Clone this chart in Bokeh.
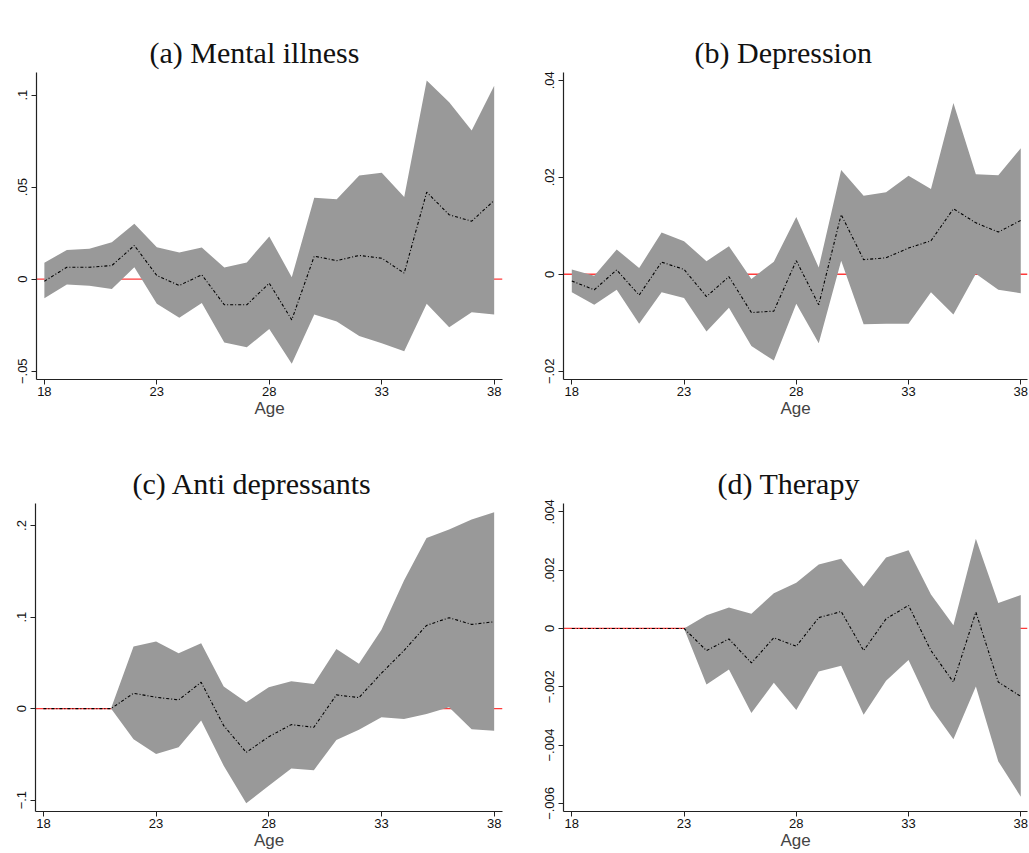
from bokeh.plotting import figure
from bokeh.layouts import column, row
from bokeh.models import Range1d, FixedTicker, CustomJSTickFormatter, Span, Title, LinearAxis
from bokeh.embed import file_html
from bokeh.resources import INLINE

ages = list(range(18, 39))
x_ticks = [18, 23, 28, 33, 38]

# (a) Mental illness
a_est = [-0.0011, 0.0065, 0.0065, 0.0074, 0.0183, 0.0020, -0.0034, 0.0024, -0.0139, -0.0139, -0.0022,
         -0.0221, 0.0125, 0.0101, 0.0129, 0.0114, 0.0033, 0.0473, 0.0350, 0.0315, 0.0428]
a_hi = [0.0089, 0.0159, 0.0165, 0.0201, 0.0301, 0.0174, 0.0145, 0.0172, 0.0063, 0.0091, 0.0232,
        0.0011, 0.0442, 0.0435, 0.0563, 0.0578, 0.0446, 0.1080, 0.0962, 0.0808, 0.1051]
a_lo = [-0.0103, -0.0029, -0.0036, -0.0053, 0.0065, -0.0134, -0.0210, -0.0130, -0.0344, -0.0370, -0.0270,
        -0.0460, -0.0192, -0.0230, -0.0308, -0.0348, -0.0391, -0.0134, -0.0261, -0.0179, -0.0192]
a_ticks = [-0.05, 0, 0.05, 0.1]

# (b) Depression
b_est = [-0.0014, -0.0032, 0.0009, -0.0043, 0.0025, 0.0010, -0.0046, -0.0005, -0.0079, -0.0076, 0.0028,
         -0.0063, 0.0123, 0.0030, 0.0034, 0.0054, 0.0069, 0.0135, 0.0106, 0.0087, 0.0111]
b_hi = [0.0010, -0.0003, 0.0051, 0.0013, 0.0086, 0.0068, 0.0027, 0.0058, -0.0010, 0.0026, 0.0118,
        0.0014, 0.0215, 0.0162, 0.0169, 0.0203, 0.0176, 0.0353, 0.0206, 0.0204, 0.0260]
b_lo = [-0.0037, -0.0063, -0.0032, -0.0102, -0.0037, -0.0049, -0.0118, -0.0069, -0.0148, -0.0178, -0.0061,
        -0.0142, 0.0028, -0.0103, -0.0102, -0.0102, -0.0037, -0.0083, 0.0001, -0.0032, -0.0039]
b_ticks = [-0.02, 0, 0.02, 0.04]

# (c) Anti depressants
c_est = [0, 0, 0, 0, 0.0168, 0.0124, 0.0095, 0.0288, -0.0186, -0.0478, -0.0307,
         -0.0175, -0.0204, 0.0150, 0.0120, 0.0387, 0.0635, 0.0909, 0.0993, 0.0920, 0.0949]
c_hi = [0, 0, 0, 0, 0.0679, 0.0734, 0.0606, 0.0715, 0.0241, 0.0069, 0.0234,
        0.0299, 0.0270, 0.0650, 0.0489, 0.0861, 0.1401, 0.1865, 0.1956, 0.2066, 0.2146]
c_lo = [0, 0, 0, 0, -0.0336, -0.0496, -0.0423, -0.0131, -0.0624, -0.1033, -0.0843,
        -0.0653, -0.0672, -0.0343, -0.0230, -0.0095, -0.0113, -0.0058, 0.0015, -0.0226, -0.0241]
c_ticks = [-0.1, 0, 0.1, 0.2]

# (d) Therapy
d_est = [0, 0, 0, 0, 0, 0, -0.00076, -0.00036, -0.00118, -0.00032, -0.00061,
         0.00037, 0.00058, -0.00076, 0.00033, 0.00079, -0.00076, -0.00184, 0.00056, -0.00184, -0.00233]
d_hi = [0, 0, 0, 0, 0, 0, 0.00045, 0.00072, 0.00050, 0.00121, 0.00157,
        0.00219, 0.00239, 0.00144, 0.00243, 0.00268, 0.00116, 0.00011, 0.00308, 0.00087, 0.00115]
d_lo = [0, 0, 0, 0, 0, 0, -0.00192, -0.00141, -0.00290, -0.00186, -0.00280,
        -0.00148, -0.00128, -0.00296, -0.00179, -0.00108, -0.00273, -0.00380, -0.00199, -0.00456, -0.00577]
d_ticks = [-0.006, -0.004, -0.002, 0, 0.002, 0.004]

titles = ["(a) Mental illness", "(b) Depression", "(c) Anti depressants", "(d) Therapy"]

fmt_code = """
let s = tick.toString();
if (s.startsWith("0.")) { s = s.slice(1); }
else if (s.startsWith("-0.")) { s = "\u2212" + s.slice(2); }
return s;
"""


def panel(title, est, lo, hi, yticks, xr, yr, w, h, borders, t_offset, gap):
    bl, br, bt, bb = borders
    p = figure(width=w, height=h, output_backend="svg", toolbar_location=None,
               x_range=Range1d(*xr), y_range=Range1d(*yr),
               min_border_left=bl, min_border_right=br, min_border_top=bt, min_border_bottom=bb)
    p.title = None
    p.outline_line_color = None
    p.grid.visible = False
    p.background_fill_color = "white"
    p.border_fill_color = "white"

    # invisible spacer (no ticks, white) between the frame and the title
    spacer = LinearAxis(ticker=FixedTicker(ticks=[]), axis_line_color="white", axis_line_alpha=1.0,
                        major_tick_line_color="white", major_tick_line_alpha=1.0,
                        minor_tick_line_color=None, major_tick_out=gap, major_tick_in=0,
                        major_label_standoff=0)
    p.add_layout(spacer, "above")
    p.add_layout(Title(text=title, align="left", vertical_align="top", text_font="Liberation Serif",
                       text_font_size="30px", text_font_style="normal", text_color="#111111",
                       offset=t_offset, standoff=4), "above")

    zero = Span(location=0, dimension="width", line_color="#ff3b3b", line_width=1.3, level="underlay")
    p.add_layout(zero)
    p.varea(x=ages, y1=lo, y2=hi, fill_color="#999999", fill_alpha=1.0)
    p.line(ages, est, line_color="black", line_width=1.1, line_dash="3 2 1 2")

    xax = p.below[0]
    yax = p.left[0]
    for ax in (xax, yax):
        ax.axis_line_color = "#222222"
        ax.axis_line_width = 1.2
        ax.major_tick_line_color = "#222222"
        ax.major_tick_out = 5
        ax.major_tick_in = 0
        ax.minor_tick_line_color = None
        ax.major_label_text_font = "Liberation Sans"
        ax.major_label_text_font_size = "13px"
        ax.major_label_text_color = "#111111"
    xax.major_label_standoff = 2
    yax.major_label_standoff = 4
    xax.ticker = FixedTicker(ticks=x_ticks)
    xax.axis_label = "Age"
    xax.axis_label_text_font = "Liberation Sans"
    xax.axis_label_text_font_size = "17px"
    xax.axis_label_text_font_style = "normal"
    xax.axis_label_standoff = 0
    yax.ticker = FixedTicker(ticks=yticks)
    yax.formatter = CustomJSTickFormatter(code=fmt_code)
    yax.major_label_orientation = "parallel"
    return p


xr_left = (17.65, 38.37)
xr_right = (17.63, 38.30)

pa = panel(titles[0], a_est, a_lo, a_hi, a_ticks, xr_left, (-0.0545, 0.1123),
           515, 438, (36, 13, 72, 59), 113, 31)
pb = panel(titles[1], b_est, b_lo, b_hi, b_ticks, xr_right, (-0.0217, 0.0416),
           514, 438, (48, 2, 72, 59), 131, 31)
pc = panel(titles[2], c_est, c_lo, c_hi, c_ticks, xr_left, (-0.1124, 0.2241),
           515, 415, (35, 13, 65, 42), 97, 25)
pd = panel(titles[3], d_est, d_lo, d_hi, d_ticks, xr_right, (-0.006278, 0.004285),
           514, 415, (48, 2, 65, 42), 154, 25)

layout = column(row(pa, pb), row(pc, pd))
open("out.html", "w").write(file_html(layout, INLINE))
